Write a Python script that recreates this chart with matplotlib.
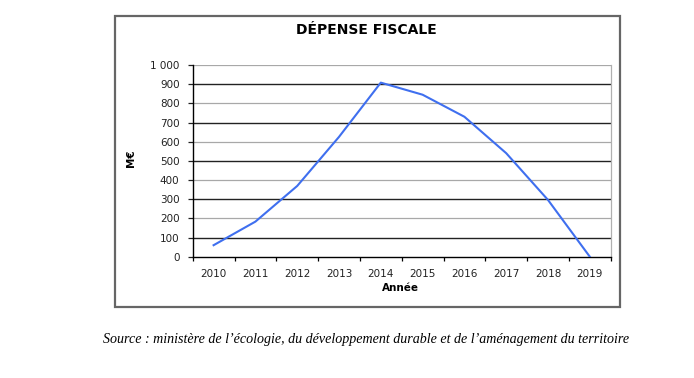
import matplotlib
matplotlib.use("Agg")
import matplotlib.pyplot as plt
from matplotlib.patches import Rectangle
from matplotlib.ticker import FixedLocator, FuncFormatter

years = ["2010", "2011", "2012", "2013", "2014", "2015", "2016", "2017", "2018", "2019"]
depense = [60, 183, 369, 625, 908, 845, 730, 540, 296, 0]
y_ticks = [0, 100, 200, 300, 400, 500, 600, 700, 800, 900, 1000]

W, H = 694, 378
fig = plt.figure(figsize=(W / 100, H / 100), dpi=100)
fig.patch.set_facecolor("white")

def fx(px):
    return px / W

def fy(py):
    return 1 - py / H

# chart box
fig.patches.append(Rectangle((fx(114.5), fy(306.5)), fx(620) - fx(114.5), fy(15.7) - fy(306.5),
                             transform=fig.transFigure, fill=False, edgecolor="#666666",
                             linewidth=1.6))

ax = fig.add_axes([fx(192.7), fy(256.7), fx(610.7) - fx(192.7), fy(65) - fy(256.7)])
x = list(range(len(years)))
ax.set_xlim(-0.5, len(years) - 0.5)
ax.set_ylim(0, 1000)

for v in y_ticks[1:]:
    dark = (v // 100) % 2 == 1
    ax.axhline(v, color="#222222" if dark else "#a8a8a8", linewidth=1.0 if dark else 0.9, zorder=1)

ax.plot(x, depense, color="#3f6fef", linewidth=1.5, zorder=3)

ax.spines["top"].set_visible(False)
ax.spines["right"].set_color("#b0b0b0")
ax.spines["right"].set_linewidth(0.9)
ax.spines["left"].set_color("black")
ax.spines["bottom"].set_color("black")
ax.spines["left"].set_linewidth(1.0)
ax.spines["bottom"].set_linewidth(1.0)

ax.set_xticks(x)
ax.set_xticklabels(years)
ax.xaxis.set_minor_locator(FixedLocator([i - 0.5 for i in range(len(years) + 1)]))
ax.tick_params(axis="x", which="major", length=0, pad=8.5, labelsize=7.5, colors="#222222")
ax.tick_params(axis="x", which="minor", length=3, width=0.9, direction="out")
ax.set_yticks(y_ticks)
ax.yaxis.set_major_formatter(FuncFormatter(lambda v, p: f"{int(v):,}".replace(",", " ")))
ax.tick_params(axis="y", which="major", length=3.5, width=0.9, pad=6, labelsize=7.5, colors="#222222")

fig.text(fx(366), fy(30), "DÉPENSE FISCALE", ha="center", va="center",
         fontsize=10, fontweight="bold", family="DejaVu Sans")
fig.text(fx(400), fy(288), "Année", ha="center", va="center", fontsize=7.5, fontweight="bold")
fig.text(fx(131), fy(158), "M€", ha="center", va="center", rotation=90, fontsize=7.5, fontweight="bold")
fig.text(fx(366), fy(340),
         "Source : ministère de l’écologie, du développement durable et de l’aménagement du territoire",
         ha="center", va="center", fontsize=10.1, style="italic", family="Liberation Serif")

fig.savefig("out.png", dpi=100)
